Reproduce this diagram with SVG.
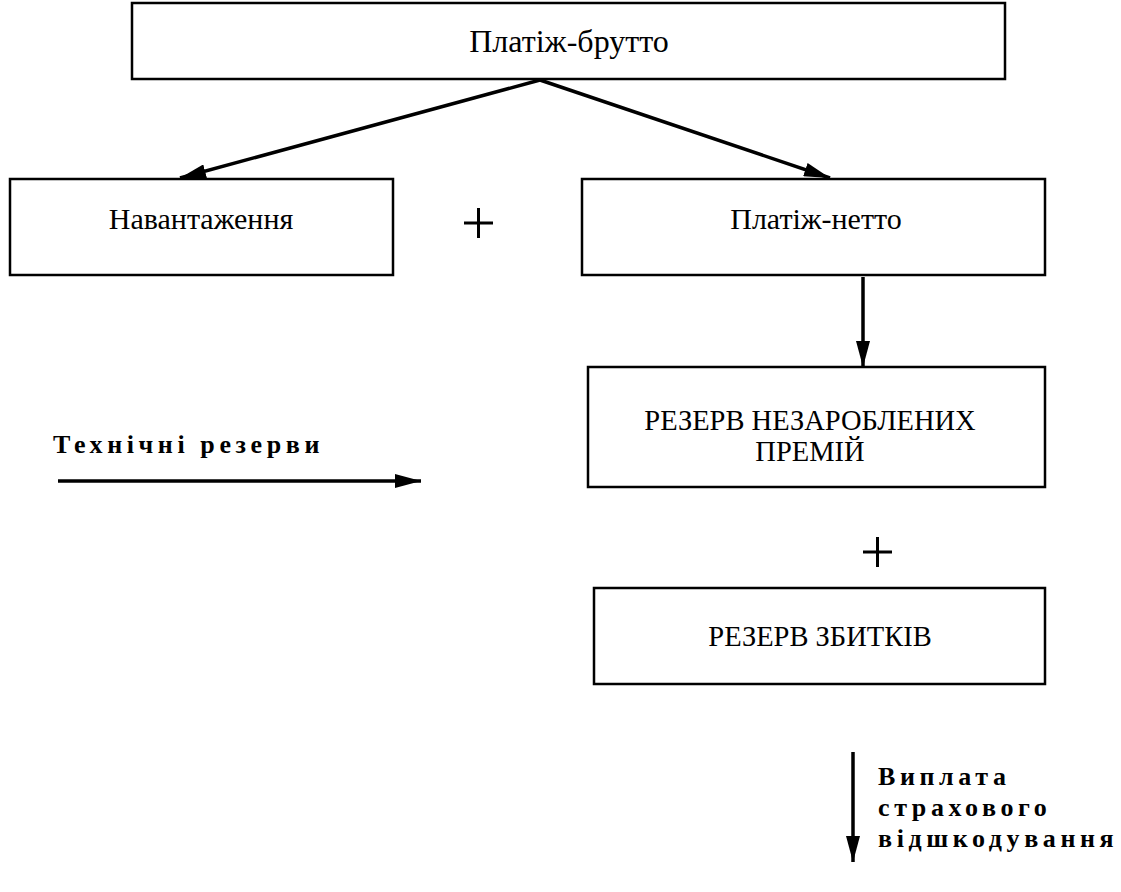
<svg xmlns="http://www.w3.org/2000/svg" width="1121" height="892" viewBox="0 0 1121 892">
<style>
.box{fill:#fff;stroke:#000;stroke-width:2.5}
.t{font-family:"Liberation Serif","DejaVu Serif",serif;font-size:30px;fill:#000;text-anchor:middle}
.r{font-size:28.5px}
.b{font-family:"Liberation Serif","DejaVu Serif",serif;font-size:26px;font-weight:bold;letter-spacing:4.6px;fill:#000}
.ln{stroke:#000;stroke-width:3.5;fill:none}
.pl{stroke:#000;stroke-width:3;fill:none}
</style>
<defs>
<marker id="ah" viewBox="0 0 26 14" refX="26" refY="7" markerWidth="26" markerHeight="14" markerUnits="userSpaceOnUse" orient="auto">
<path d="M0,0 L26,7 L0,14 z" fill="#000"/>
</marker>
</defs>
<g id="connectors">
<line class="ln" x1="540" y1="80" x2="180" y2="178" marker-end="url(#ah)"/>
<line class="ln" x1="540" y1="80" x2="830" y2="178" marker-end="url(#ah)"/>
<line class="ln" x1="863" y1="277" x2="863" y2="367" marker-end="url(#ah)"/>
<line class="ln" x1="58" y1="481" x2="421" y2="481" marker-end="url(#ah)"/>
<line class="ln" x1="853" y1="752" x2="853" y2="862" marker-end="url(#ah)"/>
</g>
<g id="brutto">
<rect class="box" x="132" y="3" width="873" height="76"/>
<text class="t" x="569" y="52" style="font-size:32px">Платіж-брутто</text>
</g>
<g id="navantazhennia">
<rect class="box" x="10" y="179" width="383" height="96"/>
<text class="t" x="201" y="229">Навантаження</text>
</g>
<g id="plus1">
<path class="pl" d="M464,223 H493 M478.5,208 V238"/>
</g>
<g id="netto">
<rect class="box" x="582" y="179" width="463" height="96"/>
<text class="t" x="816" y="229">Платіж-нетто</text>
</g>
<g id="tech">
<text class="b" x="53" y="453">Технічні резерви</text>
</g>
<g id="rnp">
<rect class="box" x="588" y="367" width="457" height="120"/>
<text class="t r" x="810" y="430">РЕЗЕРВ НЕЗАРОБЛЕНИХ</text>
<text class="t r" x="810" y="461">ПРЕМІЙ</text>
</g>
<g id="plus2">
<path class="pl" d="M863,552 H892 M877.5,537 V567"/>
</g>
<g id="rz">
<rect class="box" x="594" y="588" width="451" height="96"/>
<text class="t r" x="820" y="646">РЕЗЕРВ ЗБИТКІВ</text>
</g>
<g id="vyplata">
<text class="b" x="878" y="785">Виплата</text>
<text class="b" x="878" y="816">страхового</text>
<text class="b" x="878" y="847">відшкодування</text>
</g>
</svg>
